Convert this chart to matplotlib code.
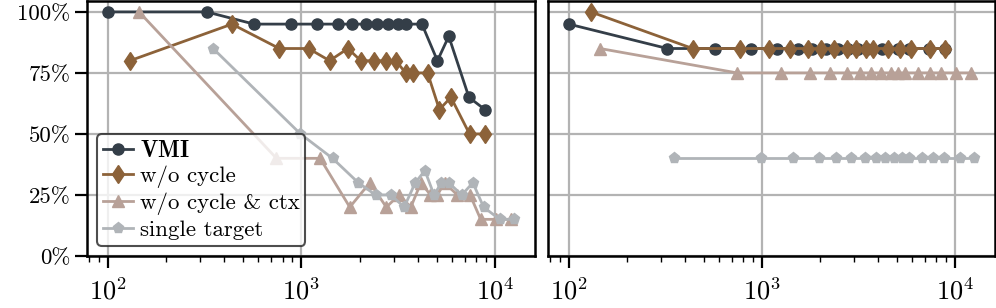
import matplotlib
matplotlib.use("Agg")
import matplotlib.pyplot as plt
from matplotlib.ticker import PercentFormatter, LogLocator

plt.rcParams["font.family"] = "serif"
plt.rcParams["font.serif"] = ["cmr10"]
plt.rcParams["mathtext.fontset"] = "cm"
plt.rcParams["axes.formatter.use_mathtext"] = True

# x positions (shared by both panels)
x_vmi = [100, 324, 570, 880, 1200, 1540, 1820, 2150, 2470, 2800, 3150, 3480, 4200, 5050, 5780, 7350, 8880]
x_nocyc = [130, 438, 770, 1090, 1400, 1740, 2030, 2370, 2750, 3080, 3460, 3780, 4490, 5170, 5930, 7400, 8850]
x_noctx = [145, 744, 1250, 1780, 2260, 2750, 3200, 3680, 4150, 4650, 5050, 5500, 6400, 7450, 8450, 10150, 12100]
x_single = [350, 990, 1450, 1970, 2420, 2900, 3400, 3880, 4350, 4850, 5300, 5780, 6750, 7700, 8750, 10600, 12600]

# left panel
left_vmi = [1.00, 1.00, 0.95, 0.95, 0.95, 0.95, 0.95, 0.95, 0.95, 0.95, 0.95, 0.95, 0.95, 0.80, 0.90, 0.65, 0.60]
left_nocyc = [0.80, 0.95, 0.85, 0.85, 0.80, 0.85, 0.80, 0.80, 0.80, 0.80, 0.75, 0.75, 0.75, 0.60, 0.65, 0.50, 0.50]
left_noctx = [1.00, 0.40, 0.40, 0.20, 0.30, 0.20, 0.25, 0.20, 0.30, 0.25, 0.25, 0.30, 0.25, 0.25, 0.15, 0.15, 0.15]
left_single = [0.85, 0.50, 0.40, 0.30, 0.25, 0.25, 0.20, 0.30, 0.35, 0.25, 0.30, 0.30, 0.25, 0.30, 0.20, 0.15, 0.15]

# right panel
right_vmi = [0.95] + [0.85] * 16
right_nocyc = [1.00] + [0.85] * 16
right_noctx = [0.85] + [0.75] * 16
right_single = [0.40] * 17

labels = [r"$\mathbf{VMI}$", "w/o cycle", "w/o cycle & ctx", "single target"]
colors = ["#343e48", "#8c6239", "#b8a198", "#b0b4b8"]
markers = ["o", "d", "^", "p"]
msizes = [8, 9.5, 9, 8]

fig = plt.figure(figsize=(9.96, 3.08), dpi=100)
ax1 = fig.add_axes([0.0873, 0.169, 0.4497, 0.828])
ax2 = fig.add_axes([0.5502, 0.169, 0.4488, 0.828])

panels = [
    (ax1, [left_vmi, left_nocyc, left_noctx, left_single]),
    (ax2, [right_vmi, right_nocyc, right_noctx, right_single]),
]
xs = [x_vmi, x_nocyc, x_noctx, x_single]

for ax, ys in panels:
    for x, y, lab, c, m, ms in zip(xs, ys, labels, colors, markers, msizes):
        ax.plot(x, y, color=c, marker=m, markersize=ms, lw=2.0, label=lab)
    ax.set_xscale("log")
    ax.set_xlim(78, 16100)
    ax.set_ylim(0, 1.045)
    ax.set_yticks([0, 0.25, 0.5, 0.75, 1.0])
    ax.yaxis.set_major_formatter(PercentFormatter(1.0, decimals=0))
    ax.xaxis.set_major_locator(LogLocator(base=10, numticks=10))
    ax.grid(True, which="major", color="#b3b3b3", lw=1.6)
    ax.set_axisbelow(True)
    for s in ax.spines.values():
        s.set_linewidth(1.8)
        s.set_color("black")
    ax.tick_params(axis="both", which="major", length=8.5, width=1.6, direction="out")
    ax.tick_params(axis="y", which="major", labelsize=16.5)
    ax.tick_params(axis="x", which="major", labelsize=19, pad=7)
    ax.tick_params(axis="x", which="minor", length=4.5, width=1.0)

ax2.tick_params(axis="y", which="both", left=False, labelleft=False)

leg = ax1.legend(loc="lower left", fontsize=16.5, frameon=True, framealpha=0.8,
                 edgecolor="#222222", fancybox=True, handlelength=1.3,
                 handletextpad=0.3, labelspacing=0.2, borderpad=0.25,
                 borderaxespad=0.45)
leg.get_frame().set_linewidth(1.5)

fig.savefig("out.png", dpi=100)
